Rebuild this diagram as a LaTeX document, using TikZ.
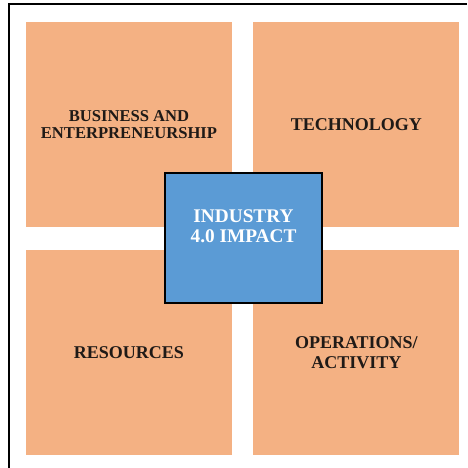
\documentclass[tikz,border=0pt]{standalone}
\usepackage{fontspec}
\setmainfont{Liberation Serif}
\usetikzlibrary{positioning}
\definecolor{peach}{HTML}{F4B183}
\definecolor{steel}{HTML}{5B9BD5}
\definecolor{ink}{HTML}{1F1A17}

\begin{document}
\begin{tikzpicture}[x=1pt,y=-1pt,
	quad/.style={fill=peach,minimum width=206pt,minimum height=205pt,inner sep=0pt,align=center,text=ink,font=\bfseries\fontsize{18}{20}\selectfont},
	hub/.style={draw=black,line width=1.6pt,fill=steel,minimum width=157pt,minimum height=130pt,align=center,text=white,font=\bfseries\fontsize{19.3}{20}\selectfont}]
			\useasboundingbox (0,0) rectangle (467,468);
			\fill[white] (0,0) rectangle (467,468);
			\draw[line width=1.6pt] (467,4) -- (9,4) -- (9,468);

			\node[quad,font=\bfseries\fontsize{16.6}{17}\selectfont] (biz) at (129,124.5) {BUSINESS AND\\ENTERPRENEURSHIP};
			\node[quad] (tech) [right=21pt of biz] {TECHNOLOGY};
			\node[quad] (res) [below=23pt of biz] {RESOURCES};
			\node[quad] (ops) [below=23pt of tech] {OPERATIONS/\\ACTIVITY};

			\node[hub] (impact) at (243.5,238) {INDUSTRY\\4.0 IMPACT\\[4pt]};
\end{tikzpicture}
\end{document}
